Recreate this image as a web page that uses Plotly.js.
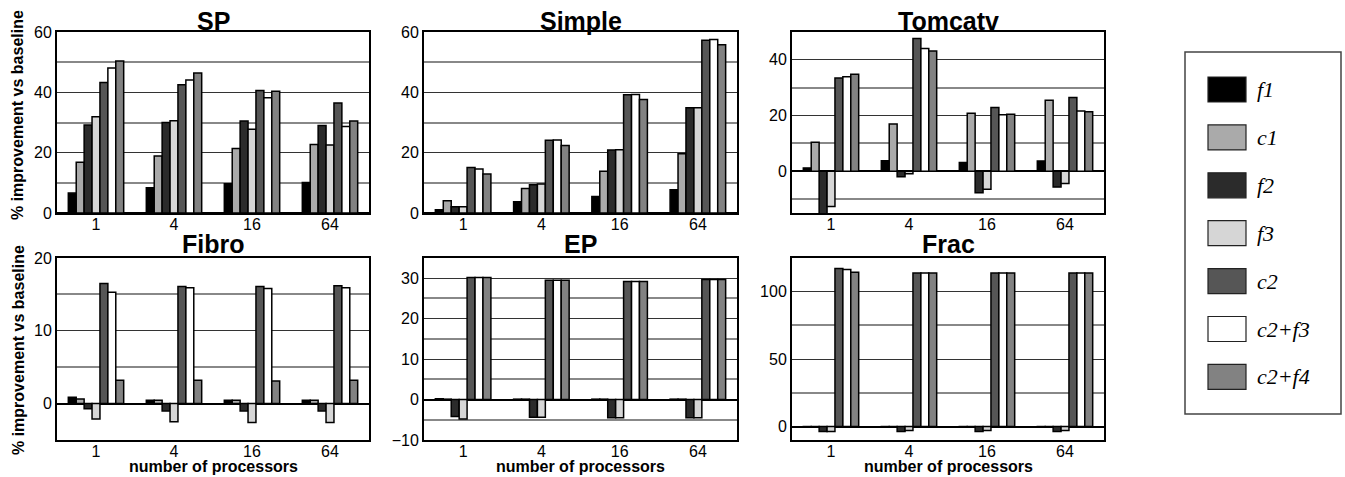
<!DOCTYPE html>
<html>
<head>
<meta charset="utf-8">
<script src="https://cdn.plot.ly/plotly-3.0.1.min.js"></script>
<style>html,body{margin:0;padding:0;background:#fff;}#chart{width:1345px;height:477px;}</style>
</head>
<body>
<div id="chart"></div>
<script>
// ---------- data ----------
const categories = ['1', '4', '16', '64'];
const seriesNames = ['f1', 'c1', 'f2', 'f3', 'c2', 'c2+f3', 'c2+f4'];
const benchmarks = ['SP', 'Simple', 'Tomcatv', 'Fibro', 'EP', 'Frac'];

// one row per series (f1, c1, f2, f3, c2, c2+f3, c2+f4), one value per category
const SP = [
  [6.6, 8.4, 9.7, 10.1],
  [16.8, 18.9, 21.4, 22.7],
  [29.2, 30.0, 30.5, 29.0],
  [31.9, 30.6, 27.8, 22.5],
  [43.3, 42.5, 40.6, 36.5],
  [48.1, 44.1, 38.2, 28.7],
  [50.4, 46.4, 40.4, 30.5]
];
const Simple = [
  [1.1, 3.7, 5.5, 7.7],
  [4.1, 8.1, 13.8, 19.6],
  [2.1, 9.4, 20.9, 34.9],
  [2.1, 9.6, 21.0, 34.9],
  [15.1, 24.1, 39.2, 57.3],
  [14.6, 24.2, 39.3, 57.5],
  [12.9, 22.4, 37.6, 55.8]
];
const Tomcatv = [
  [1.2, 3.8, 3.1, 3.7],
  [10.4, 17.0, 20.8, 25.5],
  [-16.0, -2.0, -7.7, -5.7],
  [-12.7, -0.9, -6.5, -4.4],
  [33.5, 47.7, 22.9, 26.5],
  [33.9, 44.1, 20.3, 21.6],
  [34.8, 43.2, 20.5, 21.4]
];
const Fibro = [
  [0.87, 0.46, 0.46, 0.46],
  [0.64, 0.46, 0.46, 0.46],
  [-0.7, -1.0, -1.0, -1.0],
  [-2.1, -2.5, -2.6, -2.6],
  [16.5, 16.1, 16.1, 16.2],
  [15.3, 15.9, 15.8, 15.9],
  [3.2, 3.2, 3.1, 3.2]
];
const EP = [
  [0.2, 0.1, 0.1, 0.1],
  [0.1, 0.1, 0.1, 0.1],
  [-4.2, -4.4, -4.5, -4.5],
  [-4.8, -4.4, -4.5, -4.5],
  [30.2, 29.5, 29.2, 29.7],
  [30.2, 29.5, 29.2, 29.7],
  [30.2, 29.5, 29.2, 29.7]
];
const Frac = [
  [-0.5, -0.5, -0.5, -0.5],
  [-0.3, -0.3, -0.3, -0.3],
  [-3.7, -3.7, -3.7, -3.7],
  [-3.7, -3.0, -3.0, -3.0],
  [117.2, 113.8, 113.8, 113.8],
  [116.5, 113.8, 113.8, 113.8],
  [114.5, 113.8, 113.8, 113.8]
];
const yRanges = [[0, 60], [0, 60], [-15, 50], [-5, 20], [-10, 35], [-10, 125]];
const yMajor = [20, 20, 20, 10, 10, 50];
const yMinor = [10, 10, 10, 5, 5, 25];

const yAxisTitle = '% improvement vs baseline';
const xAxisTitle = 'number of processors';

// ---------- styles ----------
const seriesColors = ['#000000', '#aaaaaa', '#2b2b2b', '#d6d6d6', '#565656', '#ffffff', '#828282'];
const W = 1345, H = 477;
const px = v => v / W;
const py = v => 1 - v / H;
const colX = [[57, 369], [424, 737], [792, 1104]];
const rowY = [[32, 213], [258, 440]];
const SANS = 'Liberation Sans, Arial, sans-serif';

const benchData = [SP, Simple, Tomcatv, Fibro, EP, Frac];

const traces = [];
const layout = {
  width: W, height: H,
  margin: {l: 0, r: 0, t: 0, b: 0},
  paper_bgcolor: '#fff', plot_bgcolor: '#fff',
  showlegend: false,
  barmode: 'group', bargap: 0.29, bargroupgap: 0,
  font: {family: SANS, color: '#000', size: 16},
  annotations: [], shapes: []
};

benchData.forEach((data, b) => {
  const idx = b + 1;
  const xa = idx === 1 ? 'x' : 'x' + idx;
  const ya = idx === 1 ? 'y' : 'y' + idx;
  const col = b % 3, row = Math.floor(b / 3);
  data.forEach((vals, s) => {
    traces.push({
      type: 'bar', x: categories, y: vals, name: seriesNames[s],
      xaxis: xa, yaxis: ya,
      marker: {color: seriesColors[s], line: {color: '#000', width: 1.5}},
      hoverinfo: 'skip'
    });
  });
  layout['xaxis' + (idx === 1 ? '' : idx)] = {
    domain: [px(colX[col][0]), px(colX[col][1])],
    anchor: ya, type: 'category',
    showline: true, mirror: true, linecolor: '#000', linewidth: 2,
    showgrid: false, zeroline: false, ticks: '', ticklabelstandoff: -4,
    tickfont: {family: SANS, size: 16, color: '#000'}, fixedrange: true
  };
  layout['yaxis' + (idx === 1 ? '' : idx)] = {
    domain: [py(rowY[row][1]), py(rowY[row][0])],
    anchor: xa, range: yRanges[b],
    tick0: 0, dtick: yMajor[b],
    showline: true, mirror: true, linecolor: '#000', linewidth: 2,
    showgrid: true, gridcolor: '#333', gridwidth: 1,
    minor: {dtick: yMinor[b], tick0: 0, showgrid: true, gridcolor: '#888', gridwidth: 2, ticks: ''},
    zeroline: true, zerolinecolor: '#000', zerolinewidth: 2,
    ticks: '', tickfont: {family: SANS, size: 16, color: '#000'}, fixedrange: true
  };
  // panel title
  layout.annotations.push({
    text: '<b>' + benchmarks[b] + '</b>', xref: 'paper', yref: 'paper',
    x: px((colX[col][0] + colX[col][1]) / 2), y: py(row === 0 ? 21 : 244),
    xanchor: 'center', yanchor: 'middle', showarrow: false,
    font: {family: SANS, size: 25, color: '#000'}
  });
  if (row === 1) {
    layout.annotations.push({
      text: '<b>' + xAxisTitle + '</b>', xref: 'paper', yref: 'paper',
      x: px((colX[col][0] + colX[col][1]) / 2), y: py(466),
      xanchor: 'center', yanchor: 'middle', showarrow: false,
      font: {family: SANS, size: 16, color: '#000'}
    });
  }
});

// row y-axis titles
[115, 350].forEach(yc => {
  layout.annotations.push({
    text: '<b>' + yAxisTitle + '</b>', xref: 'paper', yref: 'paper',
    x: px(18), y: py(yc), xanchor: 'center', yanchor: 'middle',
    textangle: -90, showarrow: false,
    font: {family: SANS, size: 16, color: '#000'}
  });
});

// legend box built from series names and colours
layout.shapes.push({
  type: 'rect', xref: 'paper', yref: 'paper',
  x0: px(1185), x1: px(1341), y0: py(414), y1: py(52),
  line: {color: '#444', width: 1.5}, fillcolor: 'rgba(0,0,0,0)'
});
seriesNames.forEach((name, s) => {
  const top = 77 + 47.9 * s;
  layout.shapes.push({
    type: 'rect', xref: 'paper', yref: 'paper',
    x0: px(1208), x1: px(1246), y0: py(top + 25), y1: py(top),
    line: {color: '#222', width: 1.2}, fillcolor: seriesColors[s]
  });
  layout.annotations.push({
    text: '<i>' + name + '</i>', xref: 'paper', yref: 'paper',
    x: px(1255), y: py(top + 12.5), xanchor: 'left', yanchor: 'middle',
    showarrow: false,
    font: {family: 'Liberation Serif, Times New Roman, serif', size: 22, color: '#000'}
  });
});

Plotly.newPlot('chart', traces, layout, {staticPlot: true, displayModeBar: false});
</script>
</body>
</html>
